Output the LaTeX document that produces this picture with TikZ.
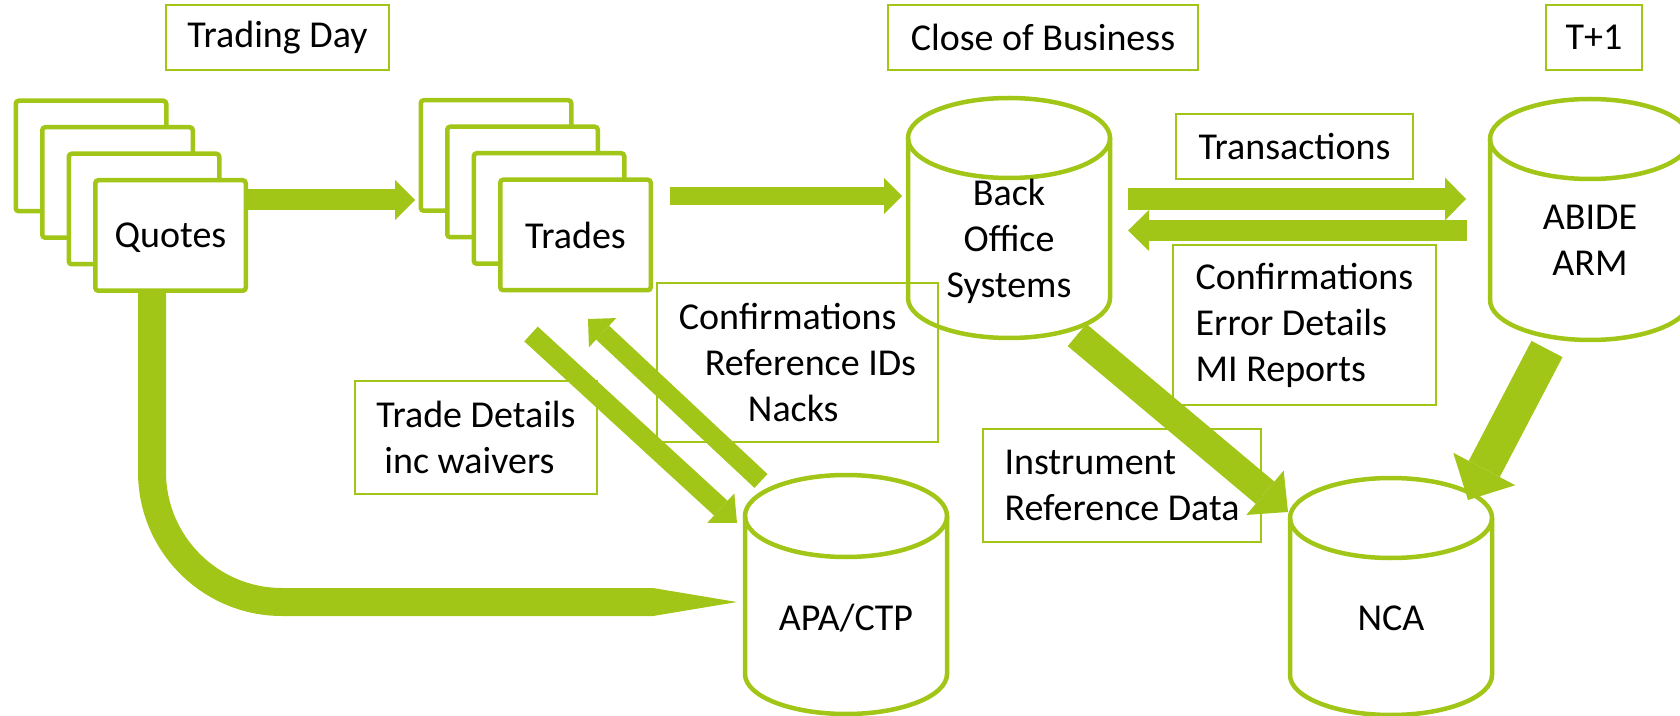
\documentclass[tikz,border=0pt]{standalone}
\usepackage{fontspec}
\setmainfont{Carlito}
\usepackage{tikz}
\usetikzlibrary{arrows.meta}
\definecolor{flowgreen}{RGB}{161,198,23}

\begin{document}
\begin{tikzpicture}[x=0.5pt,y=-0.5pt,
            font=\fontsize{19}{23}\selectfont,
            card/.style={draw=flowgreen,line width=2.25pt,fill=white,rounded corners=1.5pt,
                minimum width=75.25pt,minimum height=55.25pt,inner sep=0pt,text depth=0pt},
            tag/.style={draw=flowgreen,line width=0.8pt,inner sep=0pt,minimum height=32.7pt},
            store/.style={draw=flowgreen,line width=2.25pt},
            flow/.style n args={3}{draw=flowgreen,line width=#1,
                -{Triangle[width=#2,length=#3,line width=0pt]}}
            ]
            \useasboundingbox (0,0) rectangle (1680,716);
            
            % The labels
            \node[tag,minimum width=111.7pt] (day) at (277.5,37.5) {Trading Day};
            \node[tag,minimum width=155.2pt] (cob) at (1043,37.5) {Close of Business};
            \node[tag,minimum width=48.2pt] (tone) at (1594,37.5) {T+1};
            \node[tag,minimum width=118.7pt] (txn) at (1294.5,146.5) {Transactions};
            \node[tag,minimum width=131.7pt,minimum height=79.7pt,align=left] (replies) at (1304.5,325) {Confirmations\\Error Details\\MI Reports};
            \node[tag,minimum width=140.7pt,minimum height=79.7pt,align=left] (acks) at (797.5,362.5) {Confirmations\\\hspace*{13pt}Reference IDs\\\hspace*{34.5pt}Nacks};
            \node[tag,minimum width=121.2pt,minimum height=56.7pt,align=left] (details) at (476,437.5) {Trade Details\\\hspace*{4pt}inc waivers};
            \node[tag,minimum width=139.2pt,minimum height=56.7pt,align=left] (refdata) at (1122,485.5) {Instrument\\Reference Data};
            
            % Arrow ends
            \coordinate (q-out) at (248,200);
            \coordinate (t-in) at (415,200);
            \coordinate (t-out) at (670,196);
            \coordinate (bos-in) at (902,196);
            \coordinate (bos-tx) at (1128,199);
            \coordinate (arm-in) at (1466,199);
            \coordinate (arm-out) at (1467,230.5);
            \coordinate (bos-rx) at (1128,230.5);
            \coordinate (t-down) at (531,334);
            \coordinate (apa-in) at (737,523);
            \coordinate (apa-up) at (761,481);
            \coordinate (t-up) at (588,319);
            \coordinate (bos-down) at (1077,335);
            \coordinate (nca-left) at (1288,512);
            \coordinate (arm-down) at (1547,349);
            \coordinate (nca-right) at (1468,500);
            \coordinate (q-down) at (152,293);
            \coordinate (apa-left) at (737,602);
            
            % The flows
            \draw[flow={14pt}{14pt}{42pt},rounded corners=65pt] (q-down) |- (apa-left);
            \draw[flow={10.5pt}{20pt}{10pt}] (q-out) -- (t-in);
            \draw[flow={9pt}{18pt}{9pt}] (t-out) -- (bos-in);
            \draw[flow={11pt}{21.5pt}{10.5pt}] (bos-tx) -- (arm-in);
            \draw[flow={10.5pt}{20.5pt}{10.5pt}] (arm-out) -- (bos-rx);
            \draw[flow={10pt}{20pt}{11pt}] (t-down) -- (apa-in);
            \draw[flow={9.5pt}{20pt}{10pt}] (apa-up) -- (t-up);
            \draw[flow={14.5pt}{29pt}{15pt}] (bos-down) -- (nca-left);
            \draw[flow={17.5pt}{35pt}{17.5pt}] (arm-down) -- (nca-right);
            
            % The stacks
            \node[card] (quotes3) at (91,156) {};
            \node[card] (quotes2) at (117.5,182.5) {};
            \node[card] (quotes1) at (144,209) {};
            \node[card] (quotes) at (170.5,235.5) {Quotes};
            \node[card] (trades3) at (496,155.5) {};
            \node[card] (trades2) at (522.5,182) {};
            \node[card] (trades1) at (549,208.5) {};
            \node[card] (trades) at (575.5,235) {Trades};
            
            % The stores
            \draw[store] (1009,138) ellipse[x radius=101,y radius=40];
            \draw[store] (908,138) -- (908,298) arc[start angle=180,end angle=0,x radius=101,y radius=40] -- (1110,138);
            \node[align=center] (bos) at (1009,241) {Back\\Office\\Systems};
            
            \draw[store] (1590,139) ellipse[x radius=100,y radius=40];
            \draw[store] (1490,139) -- (1490,300) arc[start angle=180,end angle=0,x radius=100,y radius=40] -- (1690,139);
            \node[align=center] (arm) at (1590,240) {ABIDE\\ARM};
            
            \draw[store] (846,516) ellipse[x radius=101,y radius=41];
            \draw[store] (745,516) -- (745,674) arc[start angle=180,end angle=0,x radius=101,y radius=40] -- (947,516);
            \node (apa) at (846,618) {APA/CTP};
            
            \draw[store] (1391,518) ellipse[x radius=101,y radius=40];
            \draw[store] (1290,518) -- (1290,675) arc[start angle=180,end angle=0,x radius=101,y radius=40] -- (1492,518);
            \node (nca) at (1391,618) {NCA};
        \end{tikzpicture}
\end{document}
